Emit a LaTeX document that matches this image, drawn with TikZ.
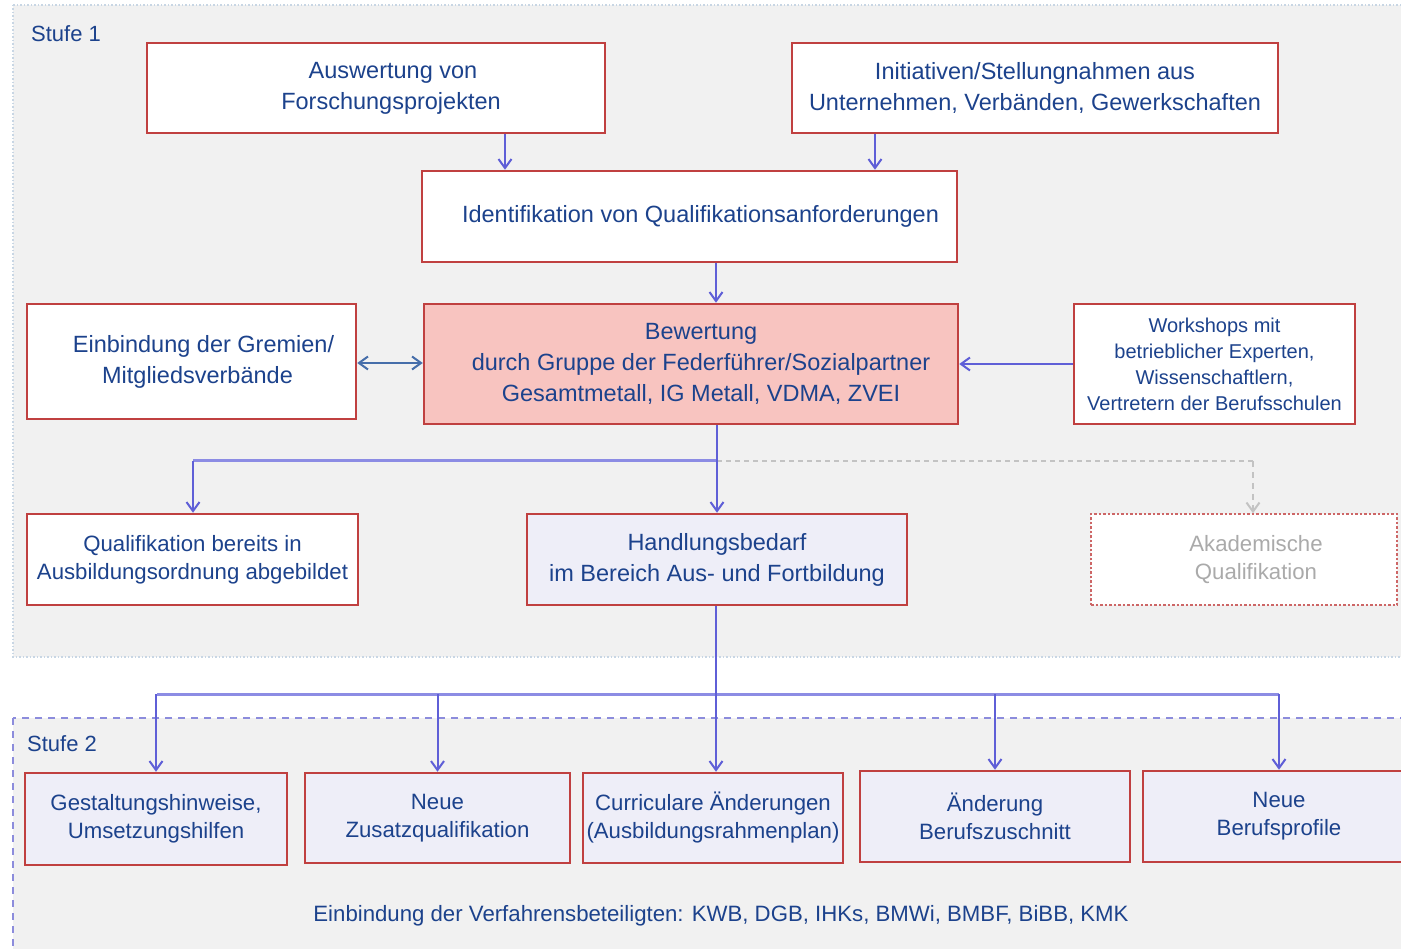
\documentclass[tikz,border=0pt]{standalone}
\usepackage{fontspec}
\setmainfont{Liberation Sans}
\usetikzlibrary{arrows.meta,calc}
\definecolor{boxred}{RGB}{192,64,64}
\definecolor{txtblue}{RGB}{28,66,140}
\definecolor{bewfill}{RGB}{248,196,192}
\definecolor{lav}{RGB}{238,238,248}
\definecolor{bggrey}{RGB}{241,241,241}
\definecolor{arrowc}{RGB}{95,95,215}
\definecolor{busc}{RGB}{140,140,228}
\definecolor{dblc}{RGB}{70,110,170}
\definecolor{st2c}{RGB}{140,140,220}
\definecolor{st1c}{RGB}{200,214,228}
\definecolor{greyc}{RGB}{170,170,170}
\newcommand{\shr}[1]{\hspace*{#1pt}}
\tikzset{
  box/.style={draw=boxred, line width=2.5pt, fill=white, text=txtblue, align=center,
    inner sep=0pt, font=\fontsize{23.5}{31}\selectfont},
  lavbox/.style={box, fill=lav},
  small2/.style={font=\fontsize{22.2}{28}\selectfont},
  arr/.style={draw=arrowc, line width=2pt, -{Straight Barb[length=9pt,width=13pt]}},
  plain/.style={draw=arrowc, line width=2pt},
  bus/.style={draw=busc, line width=3pt},
  lbl/.style={text=txtblue, font=\fontsize{22}{26}\selectfont, inner sep=0pt, anchor=west}
}
\begin{document}
\begin{tikzpicture}[x=1pt,y=-1pt]
\useasboundingbox (0,0) rectangle (1401,949);
\clip (0,0) rectangle (1401,949);
\fill[white] (0,0) rectangle (1401,949);
% stage areas
\filldraw[fill=bggrey, draw=st1c, line width=1.5pt, dotted] (13,5) rectangle (1420,657);
\filldraw[fill=bggrey, draw=st2c, line width=2.5pt, dash pattern=on 7pt off 6pt] (13,718) rectangle (1420,970);
\node[lbl] (s1) at (31,34) {Stufe 1};
\node[lbl] (s2) at (27,744) {Stufe 2};
% stage 1 boxes
\node[box, minimum width=458, minimum height=90] (ausw) at (376,88) {\shr{34}Auswertung von\\\shr{30}Forschungsprojekten};
\node[box, minimum width=486, minimum height=90] (init) at (1035,88) {Initiativen/Stellungnahmen aus\\Unternehmen, Verbänden, Gewerkschaften};
\node[box, minimum width=535, minimum height=91] (ident) at (689.5,216.5) {\shr{22}Identifikation von Qualifikationsanforderungen};
\node[box, minimum width=329, minimum height=115] (grem) at (191.5,361.5) {\shr{24}Einbindung der Gremien/\\\shr{12}Mitgliedsverbände};
\node[box, fill=bewfill, minimum width=534, minimum height=120] (bew) at (691,364) {\shr{20}Bewertung\\\shr{20}durch Gruppe der Federführer/Sozialpartner\\\shr{20}Gesamtmetall, IG Metall, VDMA, ZVEI};
\node[box, minimum width=281, minimum height=120, font=\fontsize{20}{26}\selectfont] (work) at (1214.5,364) {Workshops mit\\betrieblicher Experten,\\Wissenschaftlern,\\Vertretern der Berufsschulen};
\node[box, small2, minimum width=331, minimum height=91] (qual) at (192.5,559.5) {Qualifikation bereits in\\Ausbildungsordnung abgebildet};
\node[lavbox, minimum width=380, minimum height=91] (hand) at (717,559.5) {Handlungsbedarf\\im Bereich Aus- und Fortbildung};
\node[box, draw=boxred!80, line width=1.5pt, dash pattern=on 2.5pt off 2pt, text=greyc, small2, minimum width=306, minimum height=91] (akad) at (1244,559.5) {\shr{24}Akademische\\\shr{24}Qualifikation};
% stage 2 boxes
\node[lavbox, small2, minimum width=262, minimum height=92] (g1) at (156,819) {Gestaltungshinweise,\\Umsetzungshilfen};
\node[lavbox, small2, minimum width=265, minimum height=90] (g2) at (437.5,818) {Neue\\Zusatzqualifikation};
\node[lavbox, small2, minimum width=260, minimum height=90] (g3) at (713,818) {Curriculare Änderungen\\(Ausbildungsrahmenplan)};
\node[lavbox, small2, minimum width=270, minimum height=91] (g4) at (995,816.5) {Änderung\\Berufszuschnitt};
\node[lavbox, small2, minimum width=272, minimum height=91] (g5) at (1279,816.5) {Neue\\Berufsprofile};
\node[text=txtblue, font=\fontsize{22.2}{26}\selectfont, inner sep=0pt] (bottom) at (721,916) {Einbindung der Verfahrensbeteiligten: KWB, DGB, IHKs, BMWi, BMBF, BiBB, KMK};
% connectors stage 1
\draw[arr] (ausw.south -| 505,0) -- (ident.north -| 505,0);
\draw[arr] (init.south -| 875,0) -- (ident.north -| 875,0);
\draw[arr] (ident.south -| 716,0) -- (bew.north -| 716,0);
\draw[draw=dblc, line width=2pt, {Straight Barb[length=9pt,width=13pt]}-{Straight Barb[length=9pt,width=13pt]}] (grem.east |- 0,363) -- (bew.west |- 0,363);
\draw[arr] (work.west) -- (bew.east);
\coordinate (j1) at (717,461);
\coordinate (ja) at (1253,461);
\coordinate (jq) at (193,461);
\draw[draw=greyc!70, line width=2pt, dash pattern=on 5pt off 4pt] (j1) -- (ja);
\draw[draw=greyc!70, line width=2pt, dash pattern=on 6pt off 5pt, -{Straight Barb[length=9pt,width=13pt]}] (ja) -- (akad.north -| ja);
\draw[bus] (j1) -- (jq);
\draw[arr] (jq) -- (qual.north -| jq);
\draw[plain] (bew.south -| j1) -- (j1);
\draw[arr] (j1) -- (hand.north -| j1);
% connectors stage 2
\coordinate (j2) at (716,694);
\draw[bus] (157,694) -- (1279,694);
\draw[arr] (j2 -| g1.north) -- (g1.north);
\draw[arr] (j2 -| g2.north) -- (g2.north);
\draw[arr] (hand.south -| j2) -- (g3.north -| j2);
\draw[arr] (j2 -| g4.north) -- (g4.north);
\draw[arr] (j2 -| g5.north) -- (g5.north);
\end{tikzpicture}
\end{document}
